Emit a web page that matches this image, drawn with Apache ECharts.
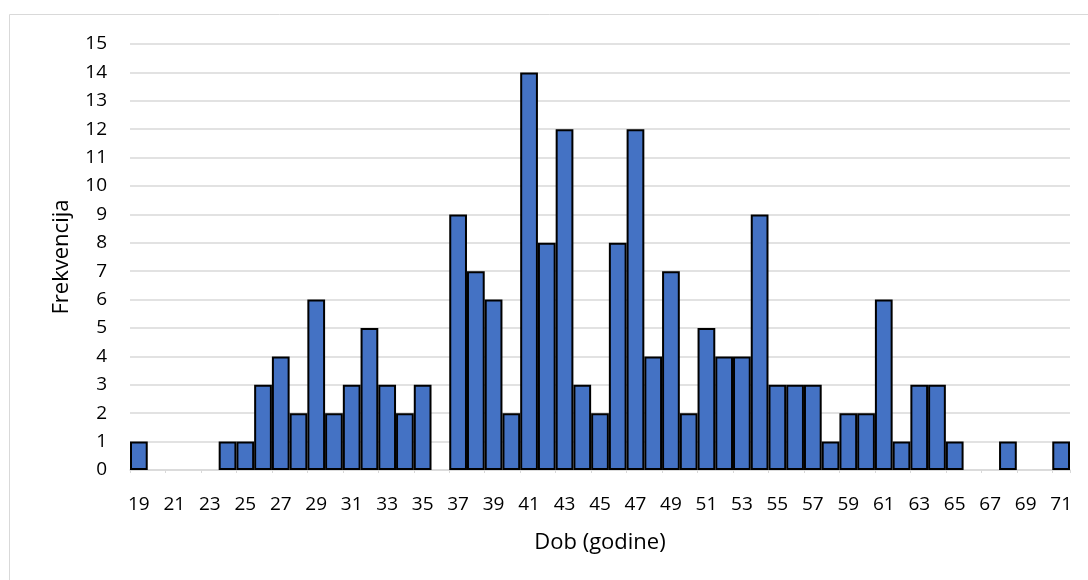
<!DOCTYPE html>
<html>
<head>
<meta charset="utf-8">
<script src="https://cdn.jsdelivr.net/npm/echarts@6/dist/echarts.min.js"></script>
<style>
html, body { margin: 0; padding: 0; background: #fff; }
#chart { width: 1088px; height: 580px; }
</style>
</head>
<body>
<div id="chart"></div>
<script>
// dob (godine) 19..71
var ages = [];
for (var a = 19; a <= 71; a++) ages.push(String(a));

var frekvencija = [
	1, 0, 0, 0, 0, 1, 1, 3, 4, 2,      // 19-28
	6, 2, 3, 5, 3, 2, 3, 0, 9, 7,      // 29-38
	6, 2, 14, 8, 12, 3, 2, 8, 12, 4,   // 39-48
	7, 2, 5, 4, 4, 9, 3, 3, 3, 1,      // 49-58
	2, 2, 6, 1, 3, 3, 1, 0, 0, 1,      // 59-68
	0, 0, 1                            // 69-71
];

var font = '"Open Sans", "Liberation Sans", sans-serif';

// nule bez obruba
var barData = frekvencija.map(function(v){
	return v === 0 ? { value: v, itemStyle: { borderWidth: 0 } } : v;
});

var myChart = echarts.init(document.getElementById('chart'));
var option = {
	animation: false,
	graphic: [{
		type: 'rect',
		shape: { x: 9.5, y: 14.5, width: 1100, height: 600 },
		style: { fill: 'none', stroke: '#d9d9d9', lineWidth: 1 },
		silent: true
	}],
	grid: { left: 130, right: 18, top: 44, bottom: 110 },
	xAxis: {
		type: 'category',
		data: ages,
		name: 'Dob (godine)',
		nameLocation: 'middle',
		nameGap: 62,
		nameTextStyle: { fontFamily: font, fontSize: 22, color: '#000' },
		axisLine: { lineStyle: { color: '#d9d9d9', width: 1.5 } },
		axisTick: { show: true, length: 3, lineStyle: { color: '#d9d9d9' } },
		axisLabel: { interval: 1, margin: 25, fontFamily: font, fontSize: 19, color: '#000' }
	},
	yAxis: {
		type: 'value',
		min: 0,
		max: 15,
		interval: 1,
		name: 'Frekvencija',
		nameLocation: 'middle',
		nameGap: 57,
		nameTextStyle: { fontFamily: font, fontSize: 22, color: '#000' },
		axisLine: { show: false },
		axisTick: { show: false },
		axisLabel: { margin: 23, fontFamily: font, fontSize: 19, color: '#000' },
		splitLine: { lineStyle: { color: '#d9d9d9', width: 1.5 } }
	},
	series: [{
		type: 'bar',
		data: barData,
		barCategoryGap: '0%',
		itemStyle: { color: '#4472c4', borderColor: '#000', borderWidth: 2 }
	}]
};
myChart.setOption(option);
</script>
</body>
</html>
